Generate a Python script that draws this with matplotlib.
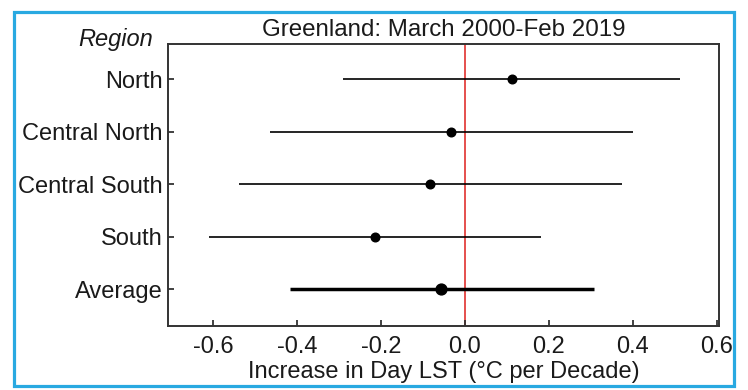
import matplotlib
matplotlib.use("Agg")
import matplotlib.pyplot as plt
from matplotlib.patches import Rectangle

regions = ["North", "Central North", "Central South", "South", "Average"]
trend = [0.111, -0.033, -0.082, -0.214, -0.058]
lower = [-0.290, -0.464, -0.538, -0.609, -0.417]
upper = [0.511, 0.401, 0.375, 0.182, 0.308]
xticks = [-0.6, -0.4, -0.2, 0.0, 0.2, 0.4, 0.6]

plt.rcParams['font.family'] = ['Liberation Sans', 'DejaVu Sans']

fig = plt.figure(figsize=(7.48, 3.9), dpi=100)
ax = fig.add_axes([168/748, 64/390, 551/748, 282/390])

ypos = list(range(len(regions), 0, -1))
for i, name in enumerate(regions):
    avg = name == "Average"
    ax.hlines(ypos[i], lower[i], upper[i], color='black', lw=2.5 if avg else 1.2, zorder=2)
    ax.plot(trend[i], ypos[i], 'o', color='black', ms=7.8 if avg else 6.2, zorder=3)

ax.axvline(0, color='#e0312f', lw=1.2, zorder=1)

ax.set_xlim(-0.707, 0.605)
ax.set_ylim(0.3, 5.67)
ax.set_yticks(ypos)
ax.set_yticklabels(regions)
ax.set_xticks(xticks)
ax.set_xticklabels(['%.1f' % v for v in xticks])
ax.tick_params(direction='in', length=4, width=1.3, colors='#333333', labelcolor='#1a1a1a', labelsize=17)
ax.tick_params(axis='x', pad=7)
ax.tick_params(axis='y', pad=4)
for s in ax.spines.values():
    s.set_color('#333333')
    s.set_linewidth(1.4)

fig.text(444/748, 1 - 36/390, "Greenland: March 2000-Feb 2019", ha='center', va='baseline', fontsize=17.4, color='#1a1a1a')
fig.text(153/748, 1 - 46/390, "Region", ha='right', va='baseline', fontsize=17, style='italic', color='#1a1a1a')
fig.text(443.5/748, 1 - 378/390, "Increase in Day LST (°C per Decade)", ha='center', va='baseline', fontsize=17, color='#1a1a1a')

fig.patches.append(Rectangle((13.5/748, 1 - 385.5/390), 720/748, 374/390, transform=fig.transFigure,
                             fill=False, edgecolor='#29a9e1', lw=2.3, zorder=10))

fig.savefig("out.png", dpi=100)
